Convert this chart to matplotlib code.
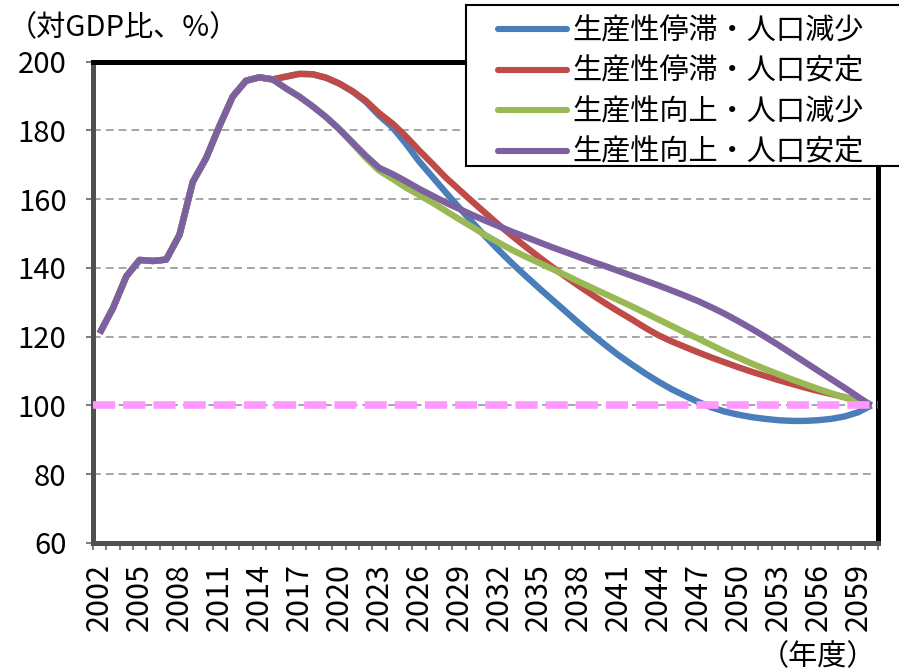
import matplotlib
matplotlib.use("Agg")
import matplotlib.pyplot as plt
from matplotlib.lines import Line2D
from matplotlib.legend_handler import HandlerLine2D
from matplotlib.patches import Rectangle
import numpy as np

plt.rcParams['font.family'] = ['Noto Sans CJK JP', 'DejaVu Sans']

# ---------------- data ----------------
years = list(range(2002, 2061))
tick_years = list(range(2002, 2061, 3))

history = [121.0, 128.3, 137.5, 142.3, 142.0, 142.4, 149.6, 165.0, 171.9,
           181.2, 189.8, 194.4, 195.4, 194.8]  # 2002-2015

stag_decl = [195.6, 196.4, 196.3, 195.3, 193.6, 191.3, 188.3, 184.3, 180.9,
             176.2, 171.0, 166.5, 162.0, 157.6, 153.3, 149.1, 145.1, 141.3,
             137.7, 134.2, 130.8, 127.4, 124.0, 120.7, 117.6, 114.6, 111.9,
             109.3, 106.9, 104.7, 102.8, 101.0, 99.4, 98.2, 97.3, 96.6, 96.1,
             95.7, 95.5, 95.5, 95.7, 96.1, 96.8, 98.0, 100.0]
stag_stable = [195.6, 196.4, 196.3, 195.3, 193.6, 191.4, 188.6, 185.0, 182.0,
               178.3, 174.2, 170.3, 166.3, 162.8, 159.3, 155.9, 152.5, 149.3,
               146.2, 143.2, 140.3, 137.5, 134.8, 132.2, 129.7, 127.3, 125.0,
               122.6, 120.4, 118.6, 117.0, 115.4, 113.9, 112.5, 111.1, 109.8,
               108.6, 107.4, 106.3, 105.2, 104.2, 103.3, 102.4, 101.2, 100.0]
grow_decl = [192.2, 189.8, 187.0, 183.9, 180.3, 176.2, 172.0, 168.3, 165.9,
             163.4, 161.2, 159.0, 156.6, 154.2, 151.9, 149.5, 147.3, 145.2,
             143.3, 141.5, 139.7, 137.9, 136.0, 134.2, 132.4, 130.6, 128.8,
             126.9, 125.0, 123.1, 121.2, 119.4, 117.5, 115.6, 113.9, 112.2,
             110.6, 109.1, 107.6, 106.2, 104.8, 103.5, 102.3, 101.1, 100.0]
grow_stable = [192.2, 189.8, 187.0, 183.9, 180.4, 176.5, 172.6, 169.1, 167.3,
               165.2, 163.0, 161.0, 159.0, 157.2, 155.4, 153.7, 152.1, 150.5,
               149.0, 147.5, 146.0, 144.6, 143.2, 141.8, 140.5, 139.1, 137.7,
               136.3, 134.9, 133.4, 131.9, 130.3, 128.5, 126.6, 124.5, 122.3,
               120.0, 117.6, 115.1, 112.6, 110.1, 107.6, 105.1, 102.5, 100.0]

series_names = ['生産性停滞・人口減少', '生産性停滞・人口安定',
                '生産性向上・人口減少', '生産性向上・人口安定']
series_colors = ['#4A7EBB', '#BE4B48', '#98B954', '#7D60A0']
projections = [stag_decl, stag_stable, grow_decl, grow_stable]
target_level = 100

y_ticks = [60, 80, 100, 120, 140, 160, 180, 200]

# ---------------- figure ----------------
W, H = 899, 672
fig = plt.figure(figsize=(W/100, H/100), dpi=100)
ax = fig.add_axes([93/W, 1-543/H, (878-93)/W, (543-61.5)/H])

x = np.arange(len(years))
handles = []
for name, color, proj in zip(series_names, series_colors, projections):
    vals = history + proj
    ln, = ax.plot(x, vals, color=color, lw=4.6, solid_joinstyle='round',
                  solid_capstyle='butt', zorder=3, label=name)
    handles.append(ln)

ax.axhline(target_level, color='#FF99FF', lw=5.5, ls=(0, (2.9, 1.05)),
           zorder=4)

ax.set_xlim(-0.5, len(years) - 0.5)
ax.set_ylim(60, 200)

# grid
ax.set_yticks(y_ticks)
ax.yaxis.grid(True, color='#A6A6A6', lw=1.4, ls=(0, (4, 2.6)), zorder=1)
ax.set_axisbelow(True)

# x ticks: labels every 3 years, tick marks at category boundaries
ax.set_xticks([years.index(t) for t in tick_years])
ax.set_xticklabels([str(t) for t in tick_years], rotation=90)
ax.set_xticks(np.arange(-0.5, len(years), 1.0), minor=True)
ax.tick_params(axis='x', which='major', length=0, pad=14.5, labelsize=22)
ax.tick_params(axis='x', which='minor', length=5, width=1.5, color='#808080',
               direction='out')
ax.tick_params(axis='y', which='major', length=5, width=1.5, color='#808080',
               direction='out', pad=14, labelsize=21)

for s in ['top', 'right']:
    ax.spines[s].set_color('black')
    ax.spines[s].set_linewidth(3.6)
for s in ['left', 'bottom']:
    ax.spines[s].set_color('#505050')
    ax.spines[s].set_linewidth(3.6)

# texts
fig.text(8/W, 1-28/H, '（対GDP比、%）', fontsize=21, ha='left', va='center')
fig.text(760/W, 1-657/H, '（年度）', fontsize=21, ha='left', va='center')

# legend box (frame drawn separately so its size matches the reference)
box = Rectangle((466/W, 1-166/H), (915-466)/W, (166-5)/H,
                transform=fig.transFigure, facecolor='white',
                edgecolor='black', lw=1.5, zorder=2)
fig.patches.append(box)

fs = 21
leg = fig.legend(handles=handles, loc='upper left',
                 bbox_to_anchor=(466/W, 1-7.5/H),
                 bbox_transform=fig.transFigure,
                 fontsize=fs, frameon=False, borderpad=0.3, borderaxespad=0,
                 handlelength=3.16, handletextpad=0.2, labelspacing=0.36,
                 handler_map={Line2D: HandlerLine2D(xpad=0.79)})
for l in leg.get_lines():
    l.set_linewidth(4.4)
    l.set_solid_capstyle('round')
leg.set_zorder(5)

fig.savefig('out.png', dpi=100)
